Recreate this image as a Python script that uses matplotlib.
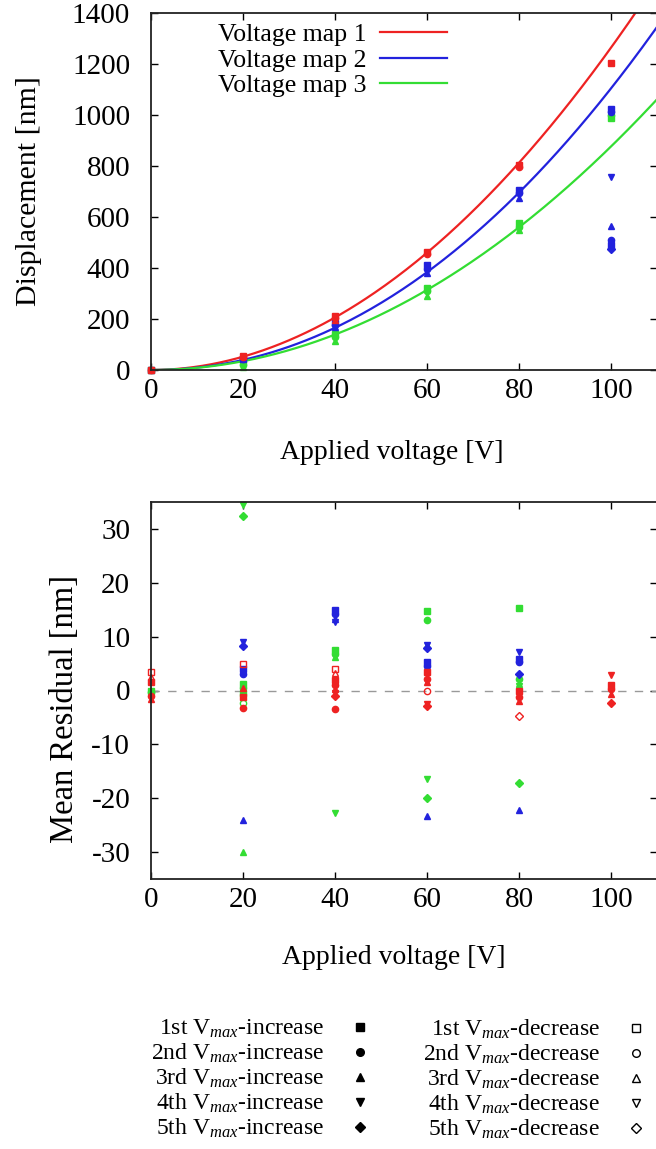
import matplotlib
matplotlib.use("Agg")
import matplotlib.pyplot as plt
import numpy as np
from matplotlib.lines import Line2D

plt.rcParams["font.family"] = ["Liberation Serif", "DejaVu Serif"]
plt.rcParams["mathtext.fontset"] = "custom"
plt.rcParams["mathtext.rm"] = "Liberation Serif"
plt.rcParams["mathtext.it"] = "Liberation Serif:italic"
plt.rcParams["xtick.direction"] = "in"
plt.rcParams["ytick.direction"] = "in"
plt.rcParams["axes.unicode_minus"] = False

colors = ("#ee2222", "#2222dd", "#33dd33")
map_labels = ("Voltage map 1", "Voltage map 2", "Voltage map 3")
markers = ("s", "o", "^", "v", "D")

# fitted power law  d = a * V**p  for each voltage map
fit_a = (0.1386, 0.0800, 0.0837)
fit_p = (1.98, 2.07, 2.01)

# measured displacement [nm]; marker index 0-4 increase, 5-9 decrease
disp1_v = [0, 0, 20, 20, 40, 40, 40, 60, 60, 80, 80, 100]
disp1 = [0, 0, 55, 50, 210, 203, 198, 462, 455, 805, 798, 1203]
disp1_mk = [0, 1, 0, 1, 0, 1, 2, 0, 1, 0, 1, 0]

disp2_v = [0, 20, 20, 40, 40, 40, 60, 60, 60, 80, 80, 80, 100, 100, 100, 100, 100, 100, 100]
disp2 = [0, 45, 42, 185, 178, 168, 410, 398, 380, 705, 695, 675, 1022, 1010, 755, 565, 510, 490, 475]
disp2_mk = [0, 0, 1, 0, 1, 2, 0, 1, 2, 0, 1, 2, 0, 1, 3, 2, 1, 0, 4]

disp3_v = [0, 20, 20, 20, 40, 40, 40, 60, 60, 60, 80, 80, 80, 100, 100]
disp3 = [0, 30, 20, 12, 140, 130, 115, 322, 310, 292, 575, 560, 548, 1000, 990]
disp3_mk = [0, 0, 1, 2, 0, 1, 2, 0, 1, 2, 0, 1, 2, 1, 0]

# mean residual [nm]
res1_v = [0, 0, 0, 0, 0, 20, 20, 20, 20, 40, 40, 40, 40, 40, 40, 40, 40,
          60, 60, 60, 60, 60, 60, 80, 80, 80, 80, 100, 100, 100, 100, 100]
res1 = [3.5, 2.5, 1.5, -1.0, -1.5, 5.0, -1.2, -3.3, 0.5, 4.0, 3.2, 1.9, 1.0, 0.3, -0.5, -1.0, -3.4,
        3.5, 2.2, 1.5, 0.0, -2.5, -2.8, 0.0, -1.2, -1.9, -4.8, 2.8, 1.0, 0.2, -0.6, -2.4]
res1_mk = [5, 7, 0, 1, 2, 5, 0, 1, 2, 5, 7, 0, 1, 2, 3, 4, 1,
           0, 1, 2, 6, 3, 4, 0, 1, 2, 9, 3, 0, 1, 2, 4]

res2_v = [20, 20, 20, 20, 20, 40, 40, 40, 40, 60, 60, 60, 60, 60, 80, 80, 80, 80, 80]
res2 = [9.0, 8.2, 4.0, 3.1, -24.1, 15.0, 14.2, 13.3, 12.7, 8.5, 7.8, 5.2, 4.6, -23.3,
        7.1, 5.9, 5.3, 3.1, -22.1]
res2_mk = [3, 4, 0, 1, 2, 0, 1, 2, 3, 3, 4, 0, 1, 2, 3, 0, 1, 4, 2]

res3_v = [0, 0, 20, 20, 20, 20, 20, 20, 20, 20, 40, 40, 40, 40,
          60, 60, 60, 60, 60, 80, 80, 80, 80, 80]
res3 = [0.0, -0.3, 34.5, 32.4, 1.2, 0.5, 0.0, -0.5, -2.3, -30.0, 7.6, 6.8, 6.2, -22.7,
        14.8, 13.0, 8.5, -16.5, -20.0, 15.4, 2.2, 1.2, 0.8, -17.2]
res3_mk = [0, 1, 3, 4, 0, 1, 2, 5, 6, 2, 0, 1, 2, 3,
           0, 1, 2, 3, 4, 0, 1, 2, 3, 4]

vticks = [0, 20, 40, 60, 80, 100]
ordinals = ("1st", "2nd", "3rd", "4th", "5th")
inc_labels = [f"{o} V$_{{\\mathit{{max}}}}$-increase" for o in ordinals]
dec_labels = [f"{o} V$_{{\\mathit{{max}}}}$-decrease" for o in ordinals]


def scatter_points(ax, xs, ys, mks, color):
    for x, y, m in zip(xs, ys, mks):
        filled = m < 5
        ax.plot(x, y, marker=markers[m % 5], markersize=4.5, linestyle="None",
                markeredgecolor=color, markerfacecolor=color if filled else "none",
                markeredgewidth=1.0, clip_on=False)


def style_axes(ax):
    ax.set_xlim(0, 110)
    ax.set_xticks(vticks)
    ax.tick_params(which="both", top=True, right=True, labelsize=21, length=5, width=1)
    ax.tick_params(axis="x", pad=6)
    ax.tick_params(axis="y", pad=15)
    for s in ax.spines.values():
        s.set_linewidth(1.3)
        s.set_color("#222222")
    ax.set_xlabel("Applied voltage [V]", fontsize=20)


fig = plt.figure(figsize=(6.56, 11.49), dpi=100)

# displacement vs voltage
ax1 = fig.add_axes([151 / 656, 1 - 370 / 1149, 506 / 656, 357 / 1149])
vv = np.linspace(0, 112, 300)
for i in range(3):
    ax1.plot(vv, fit_a[i] * vv ** fit_p[i], color=colors[i], lw=1.6, label=map_labels[i])
for xs, ys, mk, c in ((disp3_v, disp3, disp3_mk, colors[2]),
                      (disp2_v, disp2, disp2_mk, colors[1]),
                      (disp1_v, disp1, disp1_mk, colors[0])):
    scatter_points(ax1, xs, ys, mk, c)
ax1.set_ylim(0, 1400)
ax1.set_yticks(np.arange(0, 1401, 200))
style_axes(ax1)
ax1.set_ylabel("Displacement [nm]", fontsize=21.5)
ax1.yaxis.set_label_coords(-0.215, 0.5)
ax1.xaxis.set_label_coords(0.476, -0.196)
ax1.legend(loc="upper right", bbox_to_anchor=(0.585, 0.972), markerfirst=False, frameon=False,
           fontsize=18.5, handlelength=2.6, handletextpad=0.55, labelspacing=0.1,
           borderpad=0, borderaxespad=0)

# mean residual vs voltage
ax2 = fig.add_axes([151 / 656, 1 - 879 / 1149, 506 / 656, 377 / 1149])
ax2.axhline(0, color="#999999", lw=1.0, dashes=(6, 6))
for xs, ys, mk, c in ((res3_v, res3, res3_mk, colors[2]),
                      (res2_v, res2, res2_mk, colors[1]),
                      (res1_v, res1, res1_mk, colors[0])):
    scatter_points(ax2, xs, ys, mk, c)
ax2.set_ylim(-35, 35)
ax2.set_yticks(np.arange(-30, 31, 10))
style_axes(ax2)
ax2.set_ylabel("Mean Residual [nm]", fontsize=23.5)
ax2.yaxis.set_label_coords(-0.140, 0.451)
ax2.xaxis.set_label_coords(0.48, -0.175)

# marker key, one legend per column
for labels, right, filled in ((inc_labels, 369 / 656, True), (dec_labels, 645 / 656, False)):
    handles = [Line2D([], [], marker=m, linestyle="None", markersize=5.5, color="black",
                      markerfacecolor="black" if filled else "none", markeredgewidth=1.0)
               for m in markers]
    fig.legend(handles, labels, loc="upper right", bbox_to_anchor=(right, 0.114),
               markerfirst=False, frameon=False, fontsize=17, handlelength=0.8,
               handletextpad=1.1, labelspacing=0.07, borderpad=0, borderaxespad=0)

fig.savefig("out.png", dpi=100)
